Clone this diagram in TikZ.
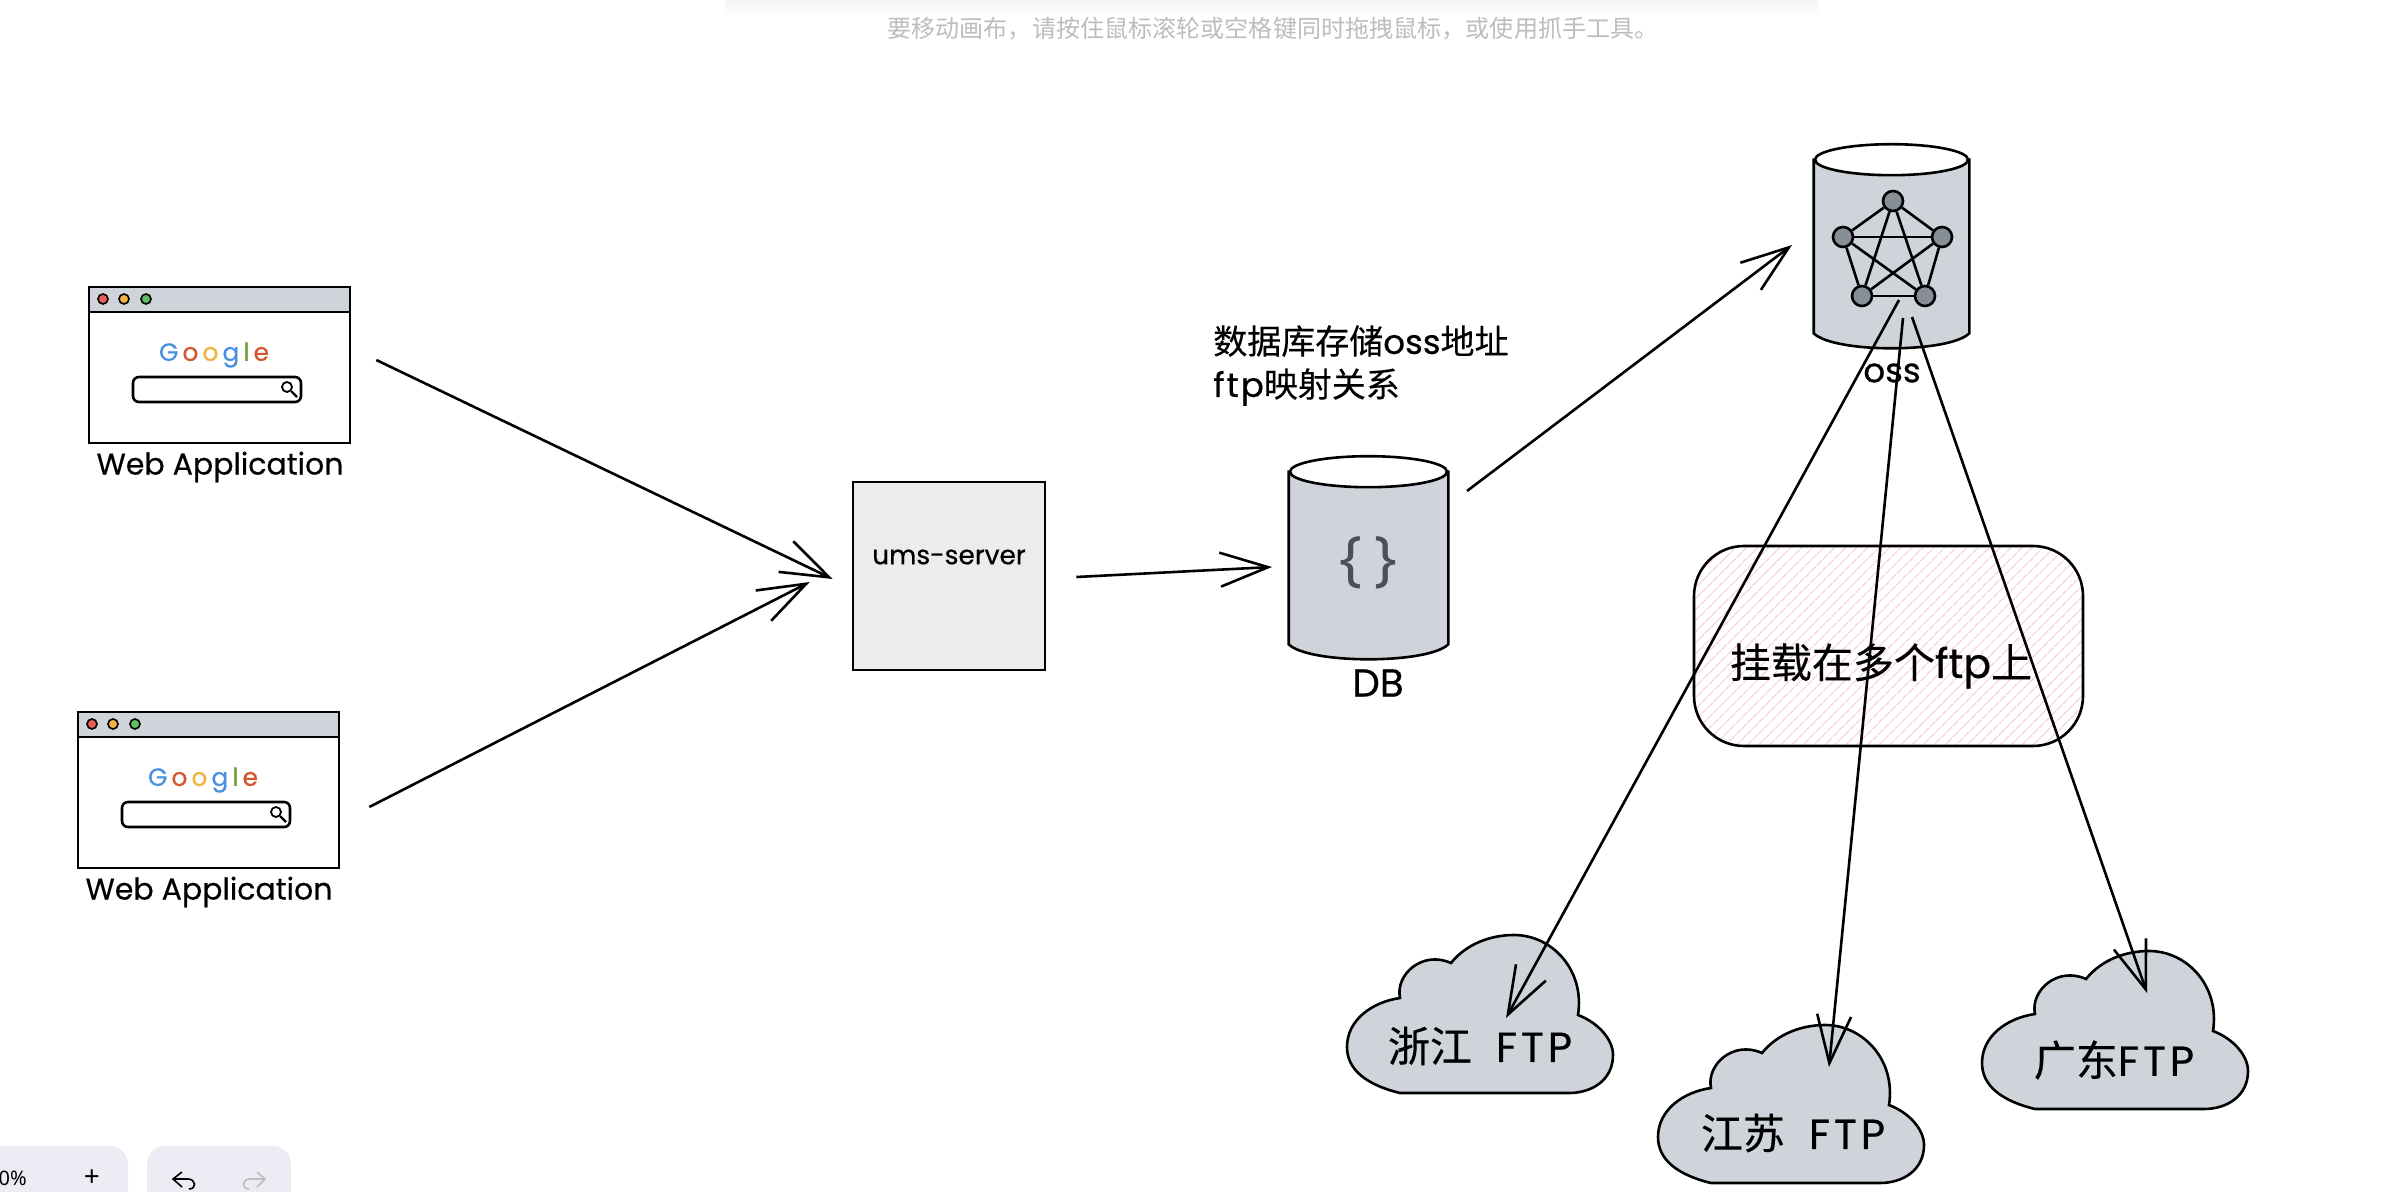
\documentclass[tikz,border=0pt]{standalone}
\usepackage{fontspec}
\usepackage{tikz}
\usetikzlibrary{arrows.meta,patterns.meta}
\setmainfont{Poppins}[FakeBold=0.5]
\newfontfamily\cjk{Noto Sans CJK SC}[FakeBold=0.3]
\newfontfamily\hintfont{Noto Sans CJK SC}
\newfontfamily\uifont{Noto Sans}
\definecolor{sketchgray}{HTML}{CED4DA}
\definecolor{darkgray}{HTML}{868E96}
\definecolor{bracegray}{HTML}{495057}
\definecolor{boxgray}{HTML}{ECECEC}
\definecolor{panelgray}{HTML}{ECECF4}
\definecolor{hintgray}{HTML}{BDBDBD}
\definecolor{hatchpink}{HTML}{F5C6C6}
\definecolor{gblue}{HTML}{4A90E2}
\definecolor{gred}{HTML}{D2552D}
\definecolor{gyellow}{HTML}{F2B33D}
\definecolor{ggreen}{HTML}{6A9A2F}
\definecolor{dotred}{HTML}{E85C5C}
\definecolor{dotyellow}{HTML}{F4B23E}
\definecolor{dotgreen}{HTML}{5CBF60}

\begin{document}
\begin{tikzpicture}[x=0.5pt,y=-0.5pt,>={Straight Barb[length=24pt,width=17pt]},line width=1.3pt]
\tikzstyle{every node}=[inner sep=0pt]
\tikzstyle{store}=[shape=rectangle]
\tikzstyle{peer}=[shape=circle,draw=black,fill=darkgray,minimum size=10pt]
\tikzstyle{dot}=[shape=circle,draw=black,line width=0.8pt,minimum size=5pt]
\tikzstyle{cloudlabel}=[font=\fontsize{21}{25}\selectfont]
\tikzstyle{hand}=[font=\fontsize{15}{18}\selectfont]
\tikzstyle{note}=[font=\fontsize{17}{21.5}\selectfont]
\path[clip,use as bounding box] (0,0) rectangle (2398,1192);
\fill[white] (0,0) rectangle (2398,1192);

\shade[top color=black!4,bottom color=white] (725,0) rectangle (1818,16);
\node[text=hintgray,font=\hintfont\fontsize{12.05}{14}\selectfont] (hint) at (1273,29) {要移动画布，请按住鼠标滚轮或空格键同时拖拽鼠标，或使用抓手工具。};

\foreach \i/\dx/\dy in {1/0/0,2/-11/425} {
\begin{scope}[shift={(\dx,\dy)}]
\node[shape=rectangle,draw=black,fill=white,minimum width=130.5pt,minimum height=78pt] (win\i) at (219.5,365) {};
\node[shape=rectangle,draw=black,fill=sketchgray,line width=0.8pt,minimum width=130.5pt,minimum height=12.5pt] (bar\i) at (219.5,299.5) {};
\node[dot,fill=dotred] (red\i) at (103,299) {};
\node[dot,fill=dotyellow] (yellow\i) at (124,299) {};
\node[dot,fill=dotgreen] (green\i) at (146,299) {};
\node[font=\fontsize{12.5}{15}\selectfont] (logo\i) at (214,355) {\textcolor{gblue}{G}\hspace{2pt}\textcolor{gred}{o}\hspace{2pt}\textcolor{gyellow}{o}\hspace{2pt}\textcolor{gblue}{g}\hspace{2pt}\textcolor{ggreen}{l}\hspace{2pt}\textcolor{gred}{e}};
\node[shape=rectangle,draw=black,rounded corners=3pt,minimum width=84pt,minimum height=12.5pt] (search\i) at (217,389.5) {};
\node[shape=circle,draw=black,line width=0.9pt,minimum size=5pt] (lens\i) at (287,387) {};
\draw[line width=1.2pt] (lens\i) -- ([shift={(10,10)}]lens\i.center);
\node[hand] (app\i) at (220,467) {Web Application};
\end{scope}
}

\node[shape=rectangle,draw=black,fill=boxgray,line width=1.3pt,minimum width=96pt,minimum height=94pt] (server) at (949,576) {};
\node[font=\fontsize{13.2}{16}\selectfont] (servername) at (949,557) {ums-server};

\node[store,minimum width=78.5pt,minimum height=100.5pt] (db) at (1368.5,557.5) {};
\node[store,minimum width=76.5pt,minimum height=101pt] (oss) at (1891.5,246) {};
\foreach \n/\r in {db/78.5,oss/76.5} {
\draw[fill=sketchgray] ([shift={(0,16)}]\n.north west) -- ([shift={(0,-15)}]\n.south west) .. controls ([shift={(20,5)}]\n.south west) and ([shift={(-20,5)}]\n.south east) .. ([shift={(0,-15)}]\n.south east) -- ([shift={(0,16)}]\n.north east) -- cycle;
\draw[fill=white] ([shift={(0,16)}]\n.north) ellipse [x radius=\r,y radius=15.5];
}
\node[text=bracegray,font=\uifont\bfseries\fontsize{30}{34}\selectfont] (dbicon) at (1368,563) {\{\hspace{6pt}\}};
\node[font=\fontsize{19.5}{23}\selectfont] (dbname) at (1378,683) {DB};
\node[note,anchor=north west,align=left] (dbnote) at (1212,324) {{\cjk 数据库存储}oss{\cjk 地址}\\f\hspace{1pt}t\hspace{1pt}p{\cjk 映射关系}};

\node[peer] (p1) at (1893,201) {};
\node[peer] (p2) at (1843,237) {};
\node[peer] (p3) at (1942,237) {};
\node[peer] (p4) at (1862,296) {};
\node[peer] (p5) at (1925,296) {};
\foreach \a/\b in {p1/p2,p1/p3,p1/p4,p1/p5,p2/p3,p2/p4,p2/p5,p3/p4,p3/p5,p4/p5}
	\path (\a) edge[draw] (\b);
\node[font=\fontsize{17}{20}\selectfont] (ossname) at (1892,373) {oss};

\node[shape=rectangle,draw=black,rounded corners=25pt,line width=1.3pt,pattern={Lines[angle=45,distance=4pt,line width=0.5pt]},pattern color=hatchpink,minimum width=194.5pt,minimum height=100pt] (mount) at (1888.5,646) {};
\node[font=\fontsize{20.5}{25}\selectfont] (mountname) at (1881,666) {{\cjk 挂载在多个}ftp{\cjk 上}};

\foreach \px/\py/\lx/\ly/\name/\txt in {1347/935/1480/1046/ftpzj/{{\cjk 浙江}\hspace{12pt}F\hspace{2pt}T\hspace{2pt}P},1658/1025/1793/1133/ftpjs/{{\cjk 江苏}\hspace{12pt}F\hspace{2pt}T\hspace{2pt}P},1982/951/2114/1060/ftpgd/{{\cjk 广东}F\hspace{2pt}T\hspace{2pt}P}} {
\draw[fill=sketchgray,line width=1.3pt,shift={(\px,\py)}] (53,158) .. controls (20,150) and (0,135) .. (0,112) .. controls (0,85) and (25,67) .. (53,63) .. controls (48,40) and (75,15) .. (104,28) .. controls (120,8) and (145,0) .. (167,0) .. controls (205,0) and (238,35) .. (231,80) .. controls (252,88) and (266,105) .. (266,120) .. controls (266,145) and (245,158) .. (222,158) -- cycle;
\node[cloudlabel] (\name) at (\lx,\ly) {\txt};
}

\path[->] ([shift={(25,-5)}]win1.east) edge[draw] ([shift={(-19,3)}]server.west)
	([shift={(29,17)}]win2.east) edge[draw] ([shift={(-42,6)}]server.west)
	([shift={(30,1)}]server.east) edge[draw] ([shift={(-96.5,9.5)}]db.center)
	([shift={(98.5,-66.5)}]db.center) edge[draw] ([shift={(-99.5,-1)}]oss.center)
	([shift={(7.5,54)}]oss.center) edge[draw] ([shift={(26,-28)}]ftpzj.center)
	([shift={(11.5,72)}]oss.center) edge[draw] ([shift={(36,-66)}]ftpjs.center)
	([shift={(20.5,71)}]oss.center) edge[draw] ([shift={(33,-67)}]ftpgd.center);

\fill[panelgray,rounded corners=9pt] (-30,1146) rectangle (128,1240);
\fill[panelgray,rounded corners=9pt] (147,1146) rectangle (291,1240);
\node[anchor=east,font=\uifont\fontsize{10}{12}\selectfont] (zoomlevel) at (28,1178) {0\%};
\node[font=\uifont\fontsize{14}{14}\selectfont] (zoomin) at (92,1178) {+};
\draw[line width=0.8pt] (182,1172) -- (173,1179) -- (182,1187) (173,1179) -- (188,1179) .. controls (196,1179) and (197,1189) .. (189,1189);
\draw[hintgray,line width=0.8pt] (257,1172) -- (265,1179) -- (257,1187) (265,1179) -- (250,1179) .. controls (242,1179) and (241,1189) .. (249,1189);
\end{tikzpicture}
\end{document}
